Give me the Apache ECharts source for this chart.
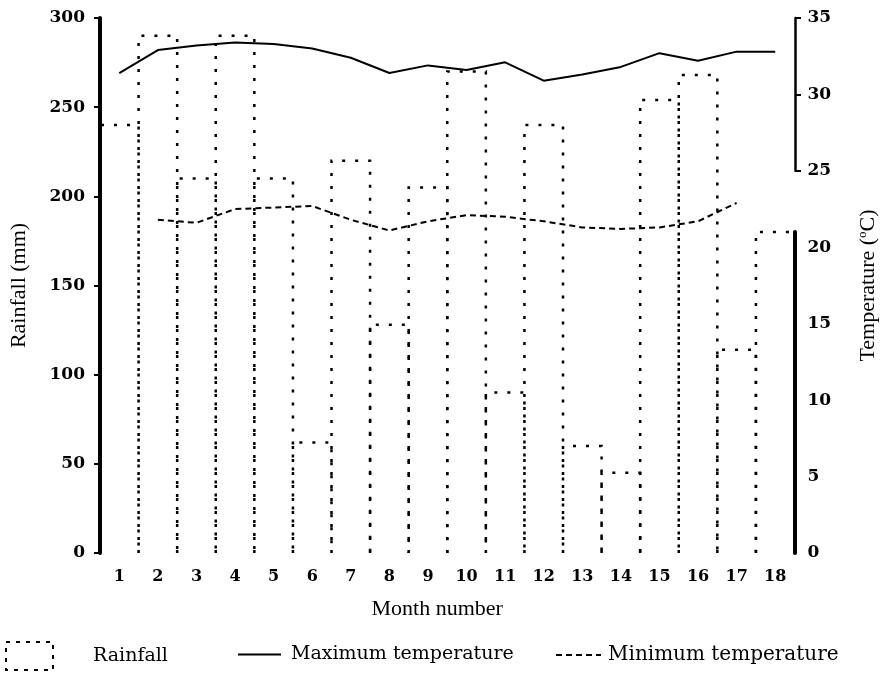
<!DOCTYPE html>
<html>
<head>
<meta charset="utf-8">
<script src="https://cdn.jsdelivr.net/npm/echarts@6/dist/echarts.min.js"></script>
<style>
  html, body { margin: 0; padding: 0; background: #fff; }
  #chart { width: 887px; height: 674px; }
</style>
</head>
<body>
<div id="chart"></div>
<script>
// ---- data ----
const months = ['1','2','3','4','5','6','7','8','9','10','11','12','13','14','15','16','17','18'];
const rainfall = [240, 290, 210, 290, 210, 62, 220, 128, 205, 270, 90, 240, 60, 45, 254, 268, 114, 180];
const maxTemp = [31.4, 32.9, 33.2, 33.4, 33.3, 33.0, 32.4, 31.4, 31.9, 31.6, 32.1, 30.9, 31.3, 31.8, 32.7, 32.2, 32.8, 32.8];
const minTemp = [null, 21.8, 21.6, 22.5, 22.6, 22.7, 21.8, 21.1, 21.7, 22.1, 22.0, 21.7, 21.3, 21.2, 21.3, 21.7, 22.9, null];
const rainTicks = { min: 0, max: 300, step: 50 };
const tempTicks = { min: 0, max: 35, step: 5 };
const upperTempRange = [25, 35];
const lowerTempRange = [0, 21];

// ---- layout ----
const G = { left: 100, right: 92, top: 18, bottom: 121 };
const plotH = 674 - G.top - G.bottom;
const pxPerDeg = plotH / (tempTicks.max - tempTicks.min);

const serifNum = 'DejaVu Serif';
const rainDash = [3, 10];
const chart = echarts.init(document.getElementById('chart'), null, { renderer: 'canvas' });

function renderHistBar(params, api) {
  const cat = api.value(0);
  const v = api.value(1);
  const top = api.coord([cat, v]);
  const base = api.coord([cat, 0]);
  const w = api.size([1, 0])[0];
  const x0 = top[0] - w / 2, x1 = top[0] + w / 2;
  return {
    type: 'polyline',
    shape: { points: [[x0, base[1]], [x0, top[1]], [x1, top[1]], [x1, base[1]]] },
    style: { stroke: '#000', fill: 'none', lineWidth: 2.5, lineDash: rainDash }
  };
}

const numLabel = { fontFamily: serifNum, fontWeight: 'bold', color: '#000' };
const legendText = { fontFamily: serifNum, fontSize: 19, color: '#000' };

const option = {
  animation: false,
  backgroundColor: '#fff',
  grid: [
    { left: G.left, right: G.right, top: G.top, bottom: G.bottom },
    { left: G.left, right: G.right, top: G.top + (tempTicks.max - upperTempRange[1]) * pxPerDeg,
      height: (upperTempRange[1] - upperTempRange[0]) * pxPerDeg },
    { left: G.left, right: G.right, top: G.top + (tempTicks.max - lowerTempRange[1]) * pxPerDeg,
      height: (lowerTempRange[1] - lowerTempRange[0]) * pxPerDeg }
  ],
  legend: [
    {
      data: ['Rainfall'], left: 5, top: 641, padding: 0,
      itemWidth: 47, itemHeight: 28,
      icon: 'rect',
      itemStyle: { color: 'rgba(0,0,0,0)', borderColor: '#000', borderWidth: 2, borderType: [4, 6] },
      textStyle: Object.assign({ padding: [0, 0, 0, 35] }, legendText)
    },
    {
      data: ['Maximum temperature'], left: 237, top: 645, padding: 0,
      itemWidth: 43, itemHeight: 20,
      itemStyle: { opacity: 0 },
      lineStyle: { color: '#000', width: 2 },
      textStyle: Object.assign({ padding: [0, 0, 0, 5] }, legendText)
    },
    {
      data: ['Minimum temperature'], left: 555, top: 645, padding: 0,
      itemWidth: 45, itemHeight: 20,
      itemStyle: { opacity: 0 },
      lineStyle: { color: '#000', width: 2, type: [6, 4] },
      textStyle: Object.assign({ padding: [0, 0, 0, 2], fontSize: 20 }, { fontFamily: serifNum, color: '#000' })
    }
  ],
  xAxis: [
    {
      gridIndex: 0, type: 'category', data: months, boundaryGap: true,
      axisLine: { show: false }, axisTick: { show: false },
      axisLabel: Object.assign({ fontSize: 16, margin: 16 }, numLabel),
      name: 'Month number', nameLocation: 'middle', nameGap: 45,
      nameTextStyle: { fontFamily: 'Liberation Serif', fontSize: 22, color: '#000', padding: [0, 20, 0, 0] }
    },
    { gridIndex: 1, type: 'value', show: false, min: 0, max: 1 },
    { gridIndex: 2, type: 'value', show: false, min: 0, max: 1 }
  ],
  yAxis: [
    {
      gridIndex: 0, type: 'value', position: 'left',
      min: rainTicks.min, max: rainTicks.max, interval: rainTicks.step,
      axisLine: { show: true, onZero: false, lineStyle: { color: '#000', width: 4 } },
      axisTick: { show: true, length: 6, lineStyle: { color: '#000', width: 2 } },
      axisLabel: Object.assign({ fontSize: 17, margin: 15 }, numLabel),
      splitLine: { show: false },
      name: 'Rainfall (mm)', nameLocation: 'middle', nameGap: 70, nameRotate: 90,
      nameTextStyle: { fontFamily: 'Liberation Serif', fontSize: 22, color: '#000' }
    },
    {
      gridIndex: 0, type: 'value', position: 'right',
      min: tempTicks.min, max: tempTicks.max, interval: tempTicks.step,
      axisLine: { show: false, onZero: false }, axisTick: { show: false },
      axisLabel: Object.assign({ fontSize: 17, margin: 13 }, numLabel),
      splitLine: { show: false },
      name: 'Temperature ({s|o}C)', nameLocation: 'middle', nameGap: 62, nameRotate: 90,
      nameTextStyle: {
        fontFamily: 'Liberation Serif', fontSize: 22, color: '#000',
        rich: { s: { fontFamily: 'Liberation Serif', fontSize: 13, color: '#000', verticalAlign: 'top', padding: [0, 0, 10, 0] } }
      }
    },
    {
      gridIndex: 1, type: 'value', position: 'right',
      min: upperTempRange[0], max: upperTempRange[1], interval: tempTicks.step,
      axisLine: { show: true, onZero: false, lineStyle: { color: '#000', width: 2.5 } },
      axisTick: { show: true, length: 6, lineStyle: { color: '#000', width: 2 } },
      axisLabel: { show: false }, splitLine: { show: false }
    },
    {
      gridIndex: 2, type: 'value', position: 'right',
      min: lowerTempRange[0], max: lowerTempRange[1],
      axisLine: { show: true, onZero: false, lineStyle: { color: '#000', width: 4 } },
      axisTick: { show: false }, axisLabel: { show: false }, splitLine: { show: false }
    }
  ],
  series: [
    {
      name: 'Rainfall', type: 'custom', xAxisIndex: 0, yAxisIndex: 0,
      data: rainfall.map((v, i) => [i, v]),
      encode: { x: 0, y: 1 },
      renderItem: renderHistBar, z: 2,
      itemStyle: { color: 'rgba(0,0,0,0)', borderColor: '#000' }
    },
    {
      name: 'Maximum temperature', type: 'line', xAxisIndex: 0, yAxisIndex: 1,
      data: maxTemp, symbol: 'none', z: 3,
      lineStyle: { color: '#000', width: 2 }, itemStyle: { color: '#000' }
    },
    {
      name: 'Minimum temperature', type: 'line', xAxisIndex: 0, yAxisIndex: 1,
      data: minTemp, symbol: 'none', z: 3, connectNulls: false,
      lineStyle: { color: '#000', width: 2, type: [6, 4] }, itemStyle: { color: '#000' }
    }
  ]
};
chart.setOption(option);
</script>
</body>
</html>
